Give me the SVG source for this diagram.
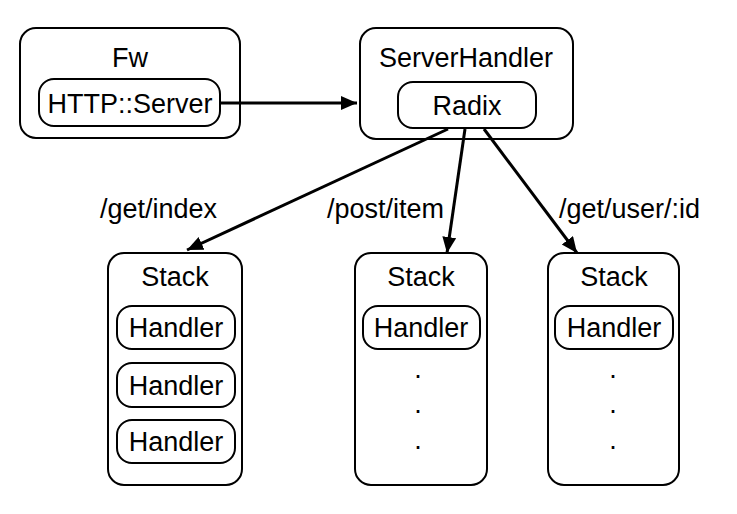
<svg xmlns="http://www.w3.org/2000/svg" width="737" height="514" viewBox="0 0 737 514">
<style>
.box{fill:#fff;stroke:#000;stroke-width:2}
.t{font-family:"Liberation Sans",Arial,sans-serif;font-size:27px;fill:#000;text-anchor:middle}
.l{font-family:"Liberation Sans",Arial,sans-serif;font-size:27px;fill:#000}
.c{fill:none;stroke:#000;stroke-width:3}
</style>
<defs>
<marker id="ah" markerUnits="userSpaceOnUse" markerWidth="18" markerHeight="16" refX="16" refY="7" orient="auto">
<path d="M0,0 L16,7 L0,14 Z" fill="#000"/>
</marker>
</defs>
<rect width="737" height="514" fill="#fff"/>
<g id="fw">
<rect class="box" x="20" y="28" width="220" height="110" rx="16"/>
<text class="t" x="130" y="67">Fw</text>
<g id="httpserver">
<rect class="box" x="39" y="79" width="181" height="47" rx="15"/>
<text class="t" x="130" y="113">HTTP::Server</text>
</g>
</g>
<g id="serverhandler">
<rect class="box" x="360" y="28" width="213" height="111" rx="16"/>
<text class="t" x="466" y="67">ServerHandler</text>
<g id="radix">
<rect class="box" x="398" y="82" width="138" height="46" rx="15"/>
<text class="t" x="467" y="115">Radix</text>
</g>
</g>
<g id="stack1">
<rect class="box" x="108" y="253" width="134" height="232" rx="16"/>
<text class="t" x="175" y="286">Stack</text>
<rect class="box" x="117" y="306" width="118" height="43" rx="15"/>
<text class="t" x="176" y="337">Handler</text>
<rect class="box" x="117" y="363" width="118" height="44" rx="15"/>
<text class="t" x="176" y="395">Handler</text>
<rect class="box" x="117" y="420" width="118" height="43" rx="15"/>
<text class="t" x="176" y="451">Handler</text>
</g>
<g id="stack2">
<rect class="box" x="355" y="253" width="132" height="232" rx="16"/>
<text class="t" x="421" y="286">Stack</text>
<rect class="box" x="363" y="306" width="117" height="43" rx="15"/>
<text class="t" x="421" y="337">Handler</text>
<text class="t" x="418" y="378">.</text>
<text class="t" x="418" y="413">.</text>
<text class="t" x="418" y="449">.</text>
</g>
<g id="stack3">
<rect class="box" x="548" y="253" width="131" height="232" rx="16"/>
<text class="t" x="614" y="286">Stack</text>
<rect class="box" x="555" y="306" width="118" height="43" rx="15"/>
<text class="t" x="614" y="337">Handler</text>
<text class="t" x="613" y="378">.</text>
<text class="t" x="613" y="413">.</text>
<text class="t" x="613" y="449">.</text>
</g>
<g id="connectors">
<line class="c" x1="220" y1="103" x2="357" y2="103" marker-end="url(#ah)"/>
<line class="c" x1="448" y1="129" x2="187" y2="250" marker-end="url(#ah)"/>
<line class="c" x1="465" y1="129" x2="447" y2="253" marker-end="url(#ah)"/>
<line class="c" x1="484" y1="129" x2="577" y2="253" marker-end="url(#ah)"/>
<text class="l" x="100" y="218">/get/index</text>
<text class="l" x="327" y="218">/post/item</text>
<text class="l" x="559" y="218">/get/user/:id</text>
</g>
</svg>
